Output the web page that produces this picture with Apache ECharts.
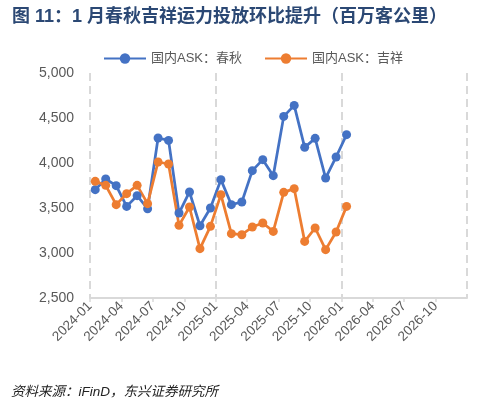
<!DOCTYPE html>
<html>
<head>
<meta charset="utf-8">
<script src="https://cdn.jsdelivr.net/npm/echarts@6/dist/echarts.min.js"></script>
<style>
  html, body {margin: 0; padding: 0; background: #fff;}
  #chart {width: 490px; height: 401px;}
</style>
</head>
<body>
<div id="chart"></div>
<script>
// 月份与数据（百万客公里）
const months = ['2024-01', '2024-02', '2024-03', '2024-04', '2024-05', '2024-06', '2024-07', '2024-08',
    '2024-09', '2024-10', '2024-11', '2024-12', '2025-01', '2025-02', '2025-03', '2025-04', '2025-05',
    '2025-06', '2025-07', '2025-08', '2025-09', '2025-10', '2025-11', '2025-12', '2026-01'];
const springData = [3704, 3822, 3748, 3518, 3637, 3492, 4278, 4251, 3444, 3678, 3303, 3500, 3815,
    3537, 3567, 3915, 4037, 3859, 4518, 4640, 4174, 4274, 3833, 4067, 4315];
const juneyaoData = [3796, 3752, 3537, 3659, 3752, 3548, 4011, 3989, 3307, 3511, 3048, 3296, 3648,
    3215, 3203, 3289, 3333, 3240, 3674, 3715, 3129, 3278, 3037, 3233, 3518];
const startMonth = '2024-01';
const yTicks = [2500, 3000, 3500, 4000, 4500, 5000];

const font = 'Liberation Sans, Noto Sans CJK SC, sans-serif';

// 月份 -> 轴上的位置（月中）
function monthPos(m) {
    const [y, mo] = m.split('-').map(Number);
    const [y0, m0] = startMonth.split('-').map(Number);
    return (y - y0) * 12 + (mo - m0) + 0.5;
}

function posLabel(v) {
    const [y0, m0] = startMonth.split('-').map(Number);
    const total = y0 * 12 + (m0 - 1) + Math.round(v);
    const y = Math.floor(total / 12);
    const mo = total % 12 + 1;
    return y + '-' + (mo < 10 ? '0' + mo : mo);
}

let myChart = echarts.init(document.getElementById('chart'));
myChart.setOption({
    animation: false,
    title: [{
        text: '图 11：1 月春秋吉祥运力投放环比提升（百万客公里）',
        left: 7,
        top: 3,
        textStyle: {fontSize: 18, fontWeight: 'bold', color: '#2b4874', fontFamily: font}
    }, {
        text: '资料来源：iFinD，东兴证券研究所',
        left: 6,
        top: 380,
        textStyle: {fontSize: 13.5, fontWeight: 'normal', fontStyle: 'italic', color: '#222', fontFamily: font}
    }],
    legend: {
        left: 98,
        top: 47,
        itemWidth: 42,
        itemHeight: 13,
        itemGap: 22,
        textStyle: {fontSize: 13, color: '#595959', fontFamily: font},
        data: ['国内ASK：春秋', '国内ASK：吉祥']
    },
    grid: {left: 90, right: 23, top: 73, bottom: 103},
    xAxis: [{
        type: 'value',
        min: 0,
        max: 36,
        interval: 3,
        axisLine: {show: true, lineStyle: {color: '#d9d9d9', width: 2}},
        axisTick: {show: true, length: 4, lineStyle: {color: '#d9d9d9', width: 1.5}},
        splitLine: {show: false},
        axisLabel: {
            rotate: 45,
            margin: 6,
            fontSize: 13.5,
            color: '#595959',
            fontFamily: font,
            showMaxLabel: false,
            formatter: posLabel
        }
    }, {
        type: 'value',
        min: 0,
        max: 36,
        interval: 12,
        position: 'bottom',
        axisLine: {show: false},
        axisTick: {show: false},
        axisLabel: {show: false},
        splitLine: {show: true, lineStyle: {color: '#d9d9d9', width: 2, type: [8, 5]}}
    }],
    yAxis: {
        type: 'value',
        min: yTicks[0],
        max: yTicks[yTicks.length - 1],
        interval: 500,
        axisLine: {show: false},
        axisTick: {show: false},
        splitLine: {show: false},
        axisLabel: {
            fontSize: 14,
            color: '#595959',
            margin: 16,
            fontFamily: font,
            formatter: (v) => v.toLocaleString('en-US')
        }
    },
    series: [{
        name: '国内ASK：春秋',
        type: 'line',
        data: months.map((m, i) => [monthPos(m), springData[i]]),
        symbol: 'circle',
        symbolSize: 9,
        itemStyle: {color: '#4472c4'},
        lineStyle: {color: '#4472c4', width: 2.75}
    }, {
        name: '国内ASK：吉祥',
        type: 'line',
        data: months.map((m, i) => [monthPos(m), juneyaoData[i]]),
        symbol: 'circle',
        symbolSize: 9,
        itemStyle: {color: '#ed7d31'},
        lineStyle: {color: '#ed7d31', width: 2.75}
    }]
});
</script>
</body>
</html>
